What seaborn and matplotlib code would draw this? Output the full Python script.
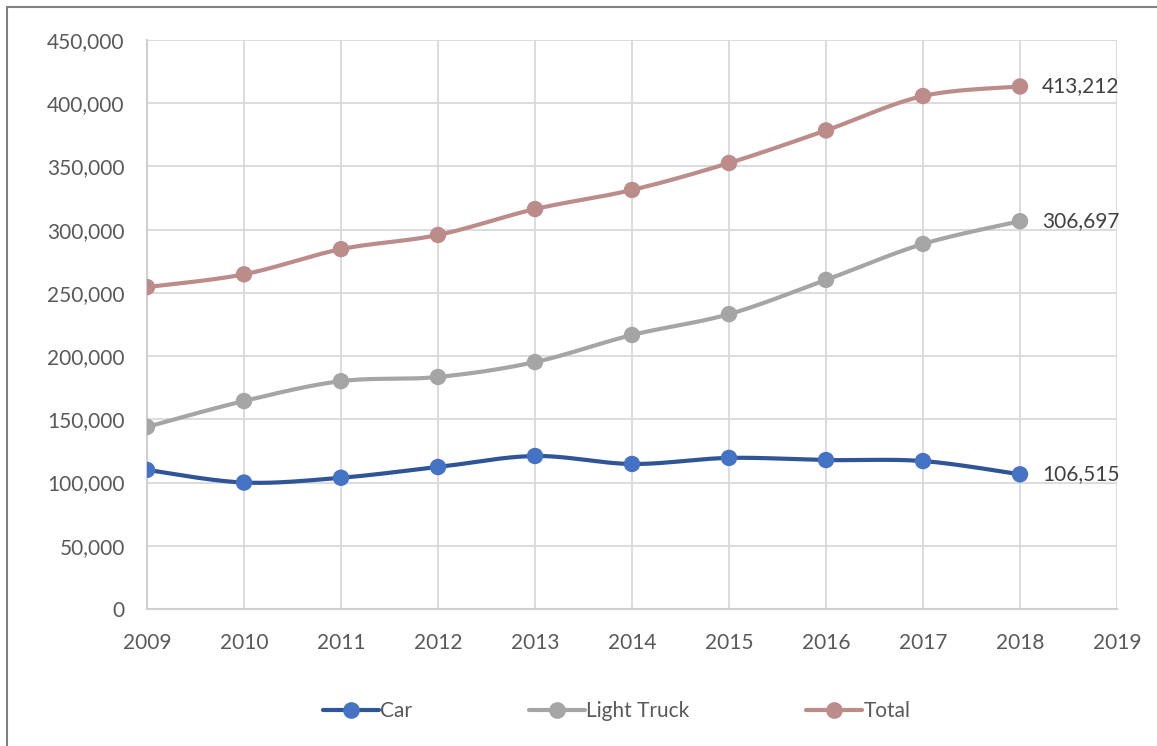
import numpy as np
import pandas as pd
import matplotlib
matplotlib.use("Agg")
import matplotlib.pyplot as plt
from matplotlib.ticker import FuncFormatter, MultipleLocator
from matplotlib.lines import Line2D
import seaborn as sns

# Annual vehicle counts
years = [2009, 2010, 2011, 2012, 2013, 2014, 2015, 2016, 2017, 2018]
car = [110000, 100000, 103800, 112300, 121000, 114700, 119500, 117800, 117000, 106515]
light_truck = [144000, 164500, 180200, 183500, 195300, 216700, 233200, 260300, 288700, 306697]
total = [254600, 264700, 284600, 295800, 316300, 331400, 352700, 378500, 405700, 413212]

series_names = ["Car", "Light Truck", "Total"]
line_colors = {"Car": "#2F5597", "Light Truck": "#A5A5A5", "Total": "#BC8C8A"}
marker_colors = {"Car": "#4472C4", "Light Truck": "#A5A5A5", "Total": "#BC8C8A"}

sns.set_theme(style="white")
plt.rcParams["font.family"] = ["Lato", "DejaVu Sans"]

FS = 15


def smooth(xs, ys, n=30):
    """Catmull-Rom curve through the points (spreadsheet-style smoothed line)."""
    px = np.asarray(xs, float)
    py = np.asarray(ys, float)
    # Work in roughly screen-proportional units so the curve shape is balanced
    sx = 97.0
    sy = 569.0 / 450000.0
    P = np.column_stack([px * sx, py * sy])
    P = np.vstack([P[0], P, P[-1]])
    out = []
    for i in range(1, len(P) - 2):
        p0, p1, p2, p3 = P[i - 1], P[i], P[i + 1], P[i + 2]
        t = np.linspace(0, 1, n, endpoint=(i == len(P) - 3))[:, None]
        c1 = p1 + (p2 - p0) / 6.0
        c2 = p2 - (p3 - p1) / 6.0
        seg = ((1 - t) ** 3) * p1 + 3 * ((1 - t) ** 2) * t * c1 + 3 * (1 - t) * t ** 2 * c2 + t ** 3 * p2
        out.append(seg)
    out = np.vstack(out)
    return out[:, 0] / sx, out[:, 1] / sy


W, H = 1157, 746
fig = plt.figure(figsize=(W / 100, H / 100), dpi=100)
ax = fig.add_axes([147 / W, 1 - 609 / H, (1117 - 147) / W, (609 - 40) / H])

data = {"Car": car, "Light Truck": light_truck, "Total": total}
for name in series_names:
    sx_, sy_ = smooth(years, data[name])
    curve = pd.DataFrame({"year": sx_, "value": sy_})
    sns.lineplot(data=curve, x="year", y="value", sort=False, ax=ax,
                 color=line_colors[name], linewidth=3.0, zorder=3)
    pts = pd.DataFrame({"year": years, "value": data[name]})
    sns.scatterplot(data=pts, x="year", y="value", ax=ax, color=marker_colors[name],
                    s=140, edgecolor="none", zorder=4)
    ax.annotate(f"{data[name][-1]:,}", xy=(years[-1], data[name][-1]),
                xytext=(16, 0), textcoords="offset points", va="center", ha="left",
                fontsize=FS, color="#404040")

ax.set_xlim(2009, 2019)
ax.set_ylim(0, 450000)
ax.xaxis.set_major_locator(MultipleLocator(1))
ax.yaxis.set_major_locator(MultipleLocator(50000))
ax.yaxis.set_major_formatter(FuncFormatter(lambda v, p: f"{int(v):,}"))
ax.grid(True, color="#D9D9D9", linewidth=1.3)
ax.set_axisbelow(True)
for s in ax.spines.values():
    s.set_visible(False)
for side in ("left", "bottom"):
    ax.spines[side].set_visible(True)
    ax.spines[side].set_color("#D0D0D0")
    ax.spines[side].set_linewidth(1.5)
ax.tick_params(axis="both", length=0, labelsize=FS, colors="#595959")
ax.tick_params(axis="y", pad=16)
ax.tick_params(axis="x", pad=17)
ax.set_xlabel("")
ax.set_ylabel("")

handles = [Line2D([0], [0], color=line_colors[n], linewidth=3.0, marker="o",
                  markersize=11, markerfacecolor=marker_colors[n],
                  markeredgecolor=marker_colors[n]) for n in series_names]
fig.legend(handles, series_names, loc="center", bbox_to_anchor=(0.533, 1 - 711 / H),
           ncol=3, frameon=False, fontsize=FS, handlelength=2.7, handletextpad=0.05,
           columnspacing=5.6, labelcolor="#595959")

# Chart frame
fig.add_artist(Line2D([7 / W, 7 / W], [0, 1 - 7 / H], color="#808080", linewidth=1.5,
                      transform=fig.transFigure))
fig.add_artist(Line2D([7 / W, 1], [1 - 7 / H, 1 - 7 / H], color="#808080", linewidth=1.5,
                      transform=fig.transFigure))

fig.savefig("out.png", dpi=100, facecolor="white")
